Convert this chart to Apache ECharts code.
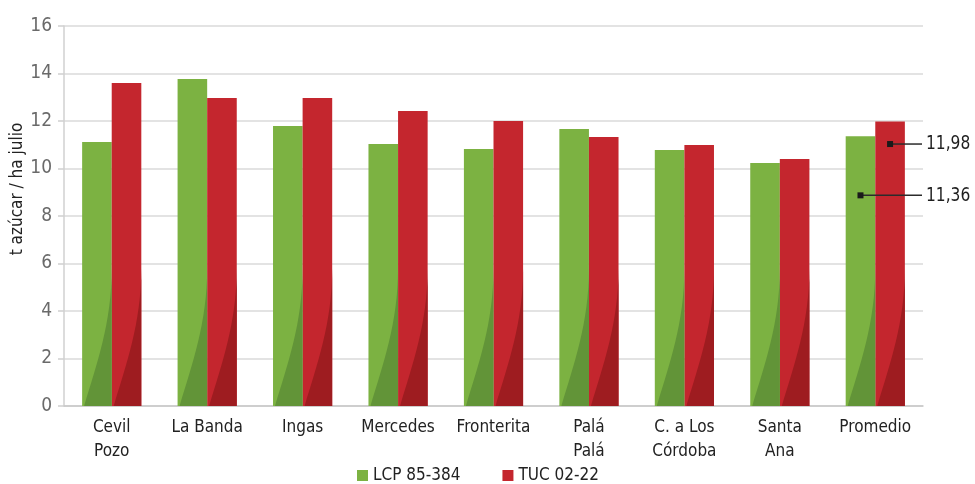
<!DOCTYPE html>
<html>
<head>
<meta charset="utf-8">
<script src="https://cdn.jsdelivr.net/npm/echarts@6/dist/echarts.min.js"></script>
<style>
  html, body { margin: 0; padding: 0; background: #fff; }
  #chart { width: 975px; height: 484px; }
</style>
</head>
<body>
<div id="chart"></div>
<script>
// Rendimiento de azúcar por localidad y variedad
const categories = ['Cevil\nPozo', 'La Banda', 'Ingas', 'Mercedes', 'Fronterita', 'Palá\nPalá', 'C. a Los\nCórdoba', 'Santa\nAna', 'Promedio'];
const seriesNames = ['LCP 85-384', 'TUC 02-22'];
const lcpValues = [11.12, 13.77, 11.79, 11.03, 10.82, 11.66, 10.78, 10.23, 11.36];
const tucValues = [13.60, 12.97, 12.97, 12.42, 12.00, 11.33, 10.99, 10.40, 11.98];
const yTicks = [0, 2, 4, 6, 8, 10, 12, 14, 16];

const FONT = '"DejaVu Sans Condensed", "Liberation Sans Narrow", Roboto, sans-serif';
const colors = {
  lcp: '#7cb242', lcpDark: '#629438',
  tuc: '#c4262e', tucDark: '#9e1c20'
};
const BAR_RATIO = 0.31;      // bar width as a share of the category band
const SHADE_LEVEL = 5.8;     // height of the dark base sweep, in axis units
const CALLOUT_LEVEL = [8.87, 11.03]; // where each callout leader meets its bar

const chart = echarts.init(document.getElementById('chart'));

// Dark curved sweep at the base of each bar
function shadeRenderer(side, dark) {
  return function (params, api) {
    const i = api.value(0);
    const base = api.coord([i, 0]);
    const band = api.size([1, 0])[0];
    const w = band * BAR_RATIO;
    const L = side < 0 ? base[0] - w : base[0];
    const R = L + w;
    const B = base[1];
    const H = B - api.coord([i, SHADE_LEVEL])[1];
    const x0 = L + 2;
    const ww = R - x0;
    const path = 'M' + x0 + ',' + B +
      ' C' + (x0 + 0.45 * ww) + ',' + (B - 0.3 * H) + ' ' + R + ',' + (B - 0.6 * H) + ' ' + R + ',' + (B - H) +
      ' L' + R + ',' + B + ' Z';
    return { type: 'path', shape: { pathData: path }, style: { fill: dark } };
  };
}

// Value callouts on the average bars
function calloutRenderer(params, api) {
  const i = api.value(0);
  const v = api.value(1);
  const s = api.value(2);
  const cs = params.coordSys;
  const base = api.coord([i, 0]);
  const band = api.size([1, 0])[0];
  const w = band * BAR_RATIO;
  const cx = s === 0 ? base[0] - w / 2 : base[0] + w / 2;
  const y = api.coord([i, CALLOUT_LEVEL[s]])[1];
  const xEnd = cs.x + cs.width - 1;
  return {
    type: 'group',
    children: [
      { type: 'line', shape: { x1: cx, y1: y, x2: xEnd, y2: y }, style: { stroke: '#2b2b2b', lineWidth: 1.5 } },
      { type: 'rect', shape: { x: cx - 3, y: y - 3, width: 6, height: 6 }, style: { fill: '#1a1a1a' } },
      { type: 'text', x: xEnd + 4, y: y, scaleX: 0.86,
        style: { text: v.toFixed(2).replace('.', ','), fill: '#1f1f1f', font: '500 20px ' + FONT,
                 textAlign: 'left', textVerticalAlign: 'middle' } }
    ]
  };
}

const last = categories.length - 1;

chart.setOption({
  animation: false,
  textStyle: { fontFamily: FONT },
  grid: { left: 64, right: 52, top: 26, bottom: 78 },
  legend: {
    data: seriesNames,
    left: 352, top: 462,
    icon: 'rect', itemWidth: 11, itemHeight: 11, itemGap: 42,
    textStyle: { fontSize: 17, color: '#222', fontFamily: FONT }
  },
  graphic: [{
    type: 'text', x: 18, y: 189, rotation: Math.PI / 2,
    style: { text: 't azúcar / ha julio', font: '17px ' + FONT, fill: '#222',
             textAlign: 'center', textVerticalAlign: 'middle' }
  }],
  xAxis: {
    type: 'category',
    data: categories,
    axisLine: { lineStyle: { color: '#c8c8c8', width: 1.5 } },
    axisTick: { show: false },
    axisLabel: { interval: 0, fontSize: 17, color: '#222', lineHeight: 24, margin: 10, fontFamily: FONT }
  },
  yAxis: {
    type: 'value',
    min: yTicks[0], max: yTicks[yTicks.length - 1], interval: 2,
    axisLine: { show: true, lineStyle: { color: '#d0d0d0', width: 1.5 } },
    axisTick: { show: true, length: 6, lineStyle: { color: '#d0d0d0', width: 1.5 } },
    splitLine: { lineStyle: { color: '#dadada', width: 1.5 } },
    axisLabel: { fontSize: 19, color: '#6a6a6a', margin: 12, fontFamily: FONT }
  },
  series: [
    { name: seriesNames[0], type: 'bar', data: lcpValues, barWidth: (BAR_RATIO * 100) + '%', barGap: 0,
      itemStyle: { color: colors.lcp } },
    { name: seriesNames[1], type: 'bar', data: tucValues, barWidth: (BAR_RATIO * 100) + '%', barGap: 0,
      itemStyle: { color: colors.tuc } },
    { type: 'custom', z: 3, silent: true, renderItem: shadeRenderer(-1, colors.lcpDark),
      data: lcpValues.map((v, i) => [i, v]) },
    { type: 'custom', z: 3, silent: true, renderItem: shadeRenderer(1, colors.tucDark),
      data: tucValues.map((v, i) => [i, v]) },
    { type: 'custom', z: 4, silent: true, clip: false, renderItem: calloutRenderer,
      data: [[last, lcpValues[last], 0], [last, tucValues[last], 1]] }
  ]
});
</script>
</body>
</html>
